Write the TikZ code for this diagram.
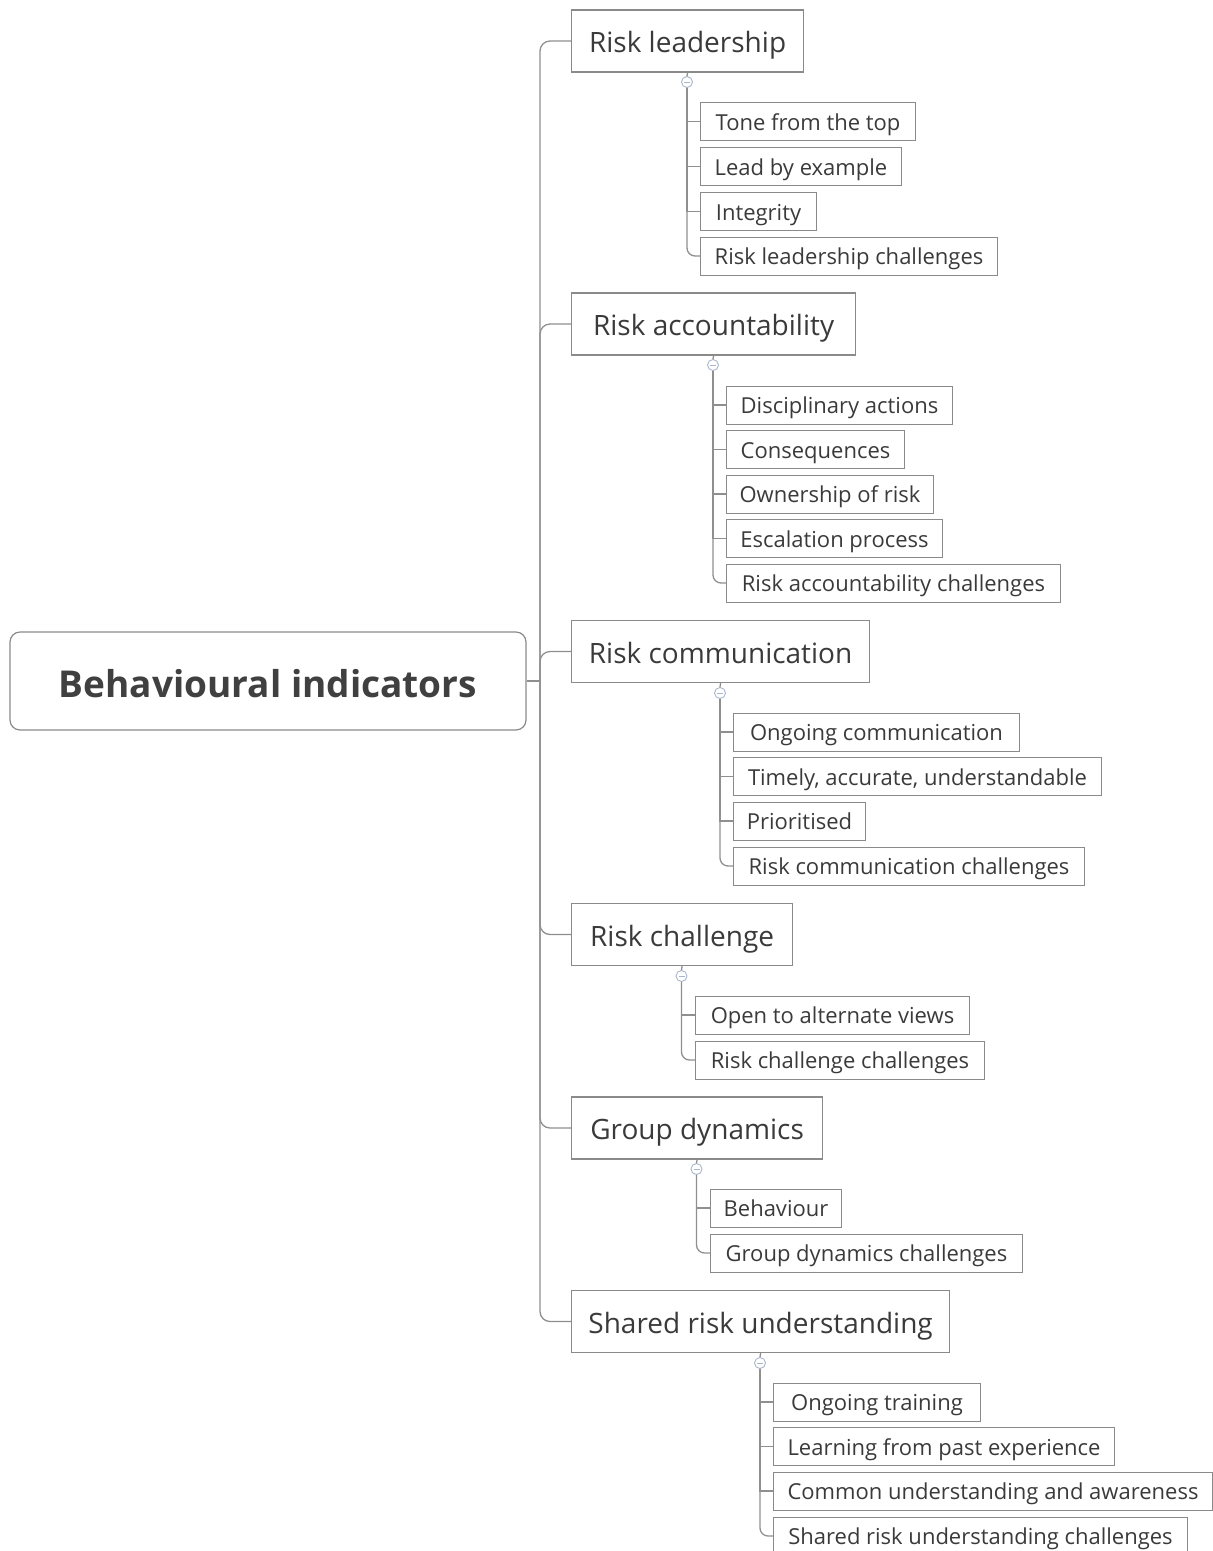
\documentclass[tikz,border=0pt]{standalone}
\usepackage{fontspec}
\setmainfont{Open Sans}
\definecolor{linec}{HTML}{8F8F8F}
\definecolor{boxc}{HTML}{8A8A8A}
\definecolor{txtc}{HTML}{3A3A3A}
\definecolor{rootc}{HTML}{404040}
\definecolor{circc}{HTML}{A9B6CB}
\tikzset{
 rootbox/.style={draw=boxc, line width=1.2pt, rounded corners=10pt, minimum width=516pt, minimum height=98pt, inner sep=0pt, font=\fontsize{37}{40}\selectfont\bfseries, text=rootc, text height=32pt, text depth=0pt},
 mainbox/.style={draw=boxc, line width=1.2pt, anchor=west, minimum height=62pt, minimum width=#1, inner sep=0pt, font=\fontsize{28}{32}\selectfont, text=txtc, text height=24pt, text depth=1pt},
 subbox/.style={draw=boxc, line width=1pt, anchor=west, minimum height=38pt, minimum width=#1, inner sep=0pt, font=\fontsize{22}{25}\selectfont, text=txtc, text height=19pt, text depth=2pt},
 conn/.style={draw=linec, line width=1.3pt},
 toggle/.style={circle, draw=circc, fill=white, line width=0.9pt, minimum size=11pt, inner sep=0pt,
   path picture={\draw[circc, line width=0.9pt] ([xshift=-3pt]path picture bounding box.center) -- ([xshift=3pt]path picture bounding box.center);}}
}
\begin{document}
\begin{tikzpicture}[x=1pt,y=-1pt]
\useasboundingbox (0,0) rectangle (1213,1551);
% root
\node[rootbox] (root) at (268,681) {Behavioural indicators};
\coordinate (trunk) at (540,681);
% main branches
\node[mainbox=232pt] (m1) at (571,41) {Risk leadership};
\node[mainbox=284pt] (m2) at (571,324) {Risk accountability};
\node[mainbox=298pt] (m3) at (571,651.5) {Risk communication};
\node[mainbox=221pt] (m4) at (571,934.5) {Risk challenge};
\node[mainbox=251pt] (m5) at (571,1128) {Group dynamics};
\node[mainbox=378pt] (m6) at (571,1321.5) {Shared risk understanding};
% toggles
\node[toggle] (t1) at (687,82) {};
\node[toggle] (t2) at (713,365) {};
\node[toggle] (t3) at (720,693) {};
\node[toggle] (t4) at (681.5,976) {};
\node[toggle] (t5) at (696.5,1169) {};
\node[toggle] (t6) at (760,1363) {};
% children 1
\node[subbox=215pt] (c11) at (700,121.5) {Tone from the top};
\node[subbox=201pt] (c12) at (700,166.5) {Lead by example};
\node[subbox=116pt] (c13) at (700,211.5) {Integrity};
\node[subbox=297pt] (c14) at (700,256) {Risk leadership challenges};
% children 2
\node[subbox=226pt] (c21) at (726,405) {Disciplinary actions};
\node[subbox=178pt] (c22) at (726,449.5) {Consequences};
\node[subbox=207pt] (c23) at (726,494) {Ownership of risk};
\node[subbox=216pt] (c24) at (726,538.5) {Escalation process};
\node[subbox=334pt] (c25) at (726,583) {Risk accountability challenges};
% children 3
\node[subbox=286pt] (c31) at (733,732) {Ongoing communication};
\node[subbox=368pt] (c32) at (733,776.5) {Timely, accurate, understandable};
\node[subbox=132pt] (c33) at (733,821) {Prioritised};
\node[subbox=351pt] (c34) at (733,866) {Risk communication challenges};
% children 4
\node[subbox=274pt] (c41) at (695,1015) {Open to alternate views};
\node[subbox=289pt] (c42) at (695,1060) {Risk challenge challenges};
% children 5
\node[subbox=131pt] (c51) at (710,1208) {Behaviour};
\node[subbox=312pt] (c52) at (710,1253) {Group dynamics challenges};
% children 6
\node[subbox=207pt] (c61) at (773,1402) {Ongoing training};
\node[subbox=341pt] (c62) at (773,1446.5) {Learning from past experience};
\node[subbox=439pt] (c63) at (773,1491) {Common understanding and awareness};
\node[subbox=414pt] (c64) at (773,1536) {Shared risk understanding challenges};
% trunk connectors
\draw[conn] (root.east) -- (trunk);
\foreach \m in {m1,m2,m3,m4,m5,m6}{
  \draw[conn, rounded corners=10pt] (trunk) |- (\m.west);
}
% toggle stems
\foreach \i in {1,...,6}{
  \draw[conn] (m\i.south) -- (t\i.north);
}
% child connectors
\draw[conn] (t1.south) |- (c11.west); \draw[conn] (t1.south) |- (c12.west); \draw[conn] (t1.south) |- (c13.west);
\draw[conn, rounded corners=8pt] (t1.south) |- (c14.west);
\draw[conn] (t2.south) |- (c21.west); \draw[conn] (t2.south) |- (c22.west); \draw[conn] (t2.south) |- (c23.west); \draw[conn] (t2.south) |- (c24.west);
\draw[conn, rounded corners=8pt] (t2.south) |- (c25.west);
\draw[conn] (t3.south) |- (c31.west); \draw[conn] (t3.south) |- (c32.west); \draw[conn] (t3.south) |- (c33.west);
\draw[conn, rounded corners=8pt] (t3.south) |- (c34.west);
\draw[conn] (t4.south) |- (c41.west);
\draw[conn, rounded corners=8pt] (t4.south) |- (c42.west);
\draw[conn] (t5.south) |- (c51.west);
\draw[conn, rounded corners=8pt] (t5.south) |- (c52.west);
\draw[conn] (t6.south) |- (c61.west); \draw[conn] (t6.south) |- (c62.west); \draw[conn] (t6.south) |- (c63.west);
\draw[conn, rounded corners=8pt] (t6.south) |- (c64.west);
\end{tikzpicture}
\end{document}
